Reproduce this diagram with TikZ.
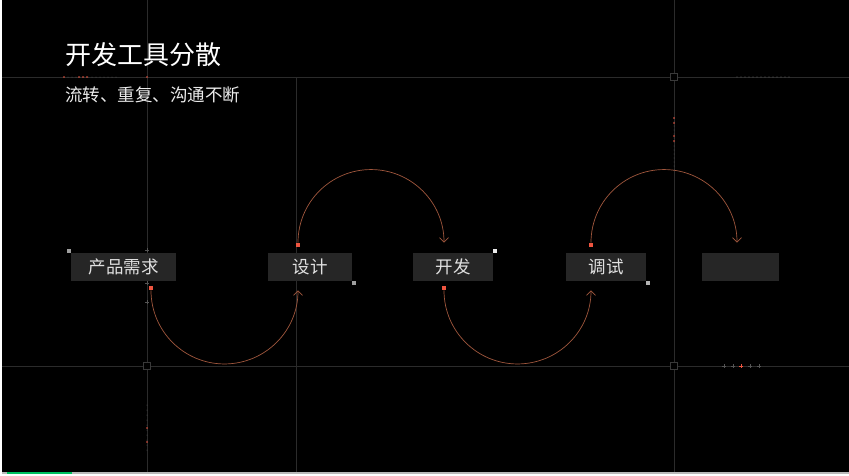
\documentclass[tikz,border=0pt]{standalone}
\usepackage{fontspec}
\newfontfamily\cjk{Noto Sans CJK SC}
\usepackage{tikz}
\usetikzlibrary{arrows.meta, positioning}

\definecolor{gridgray}{HTML}{2B2B2B}
\definecolor{tickgray}{HTML}{555555}
\definecolor{boxgray}{HTML}{262626}
\definecolor{pinred}{HTML}{EE5540}
\definecolor{flowbrown}{HTML}{A0573D}
\definecolor{barGreen}{HTML}{00C060}

\begin{document}
\begin{tikzpicture}[x=1pt,y=-1pt,
    >={Straight Barb[length=4.5pt,width=9pt]},
    gridline/.style={draw=gridgray, line width=0.9pt},
    junction/.style={draw=gray!45!black, fill=black, line width=0.8pt, minimum size=7pt, inner sep=0pt},
    stage/.style={fill=boxgray, text=white!88!black, minimum height=28pt, inner sep=0pt, font=\cjk\fontsize{17.5}{17.5}\selectfont},
    pin/.style={fill=pinred, minimum size=4.5pt, inner sep=0pt},
    corner/.style={fill=#1, minimum size=4pt, inner sep=0pt},
    flow/.style={draw=flowbrown, line width=0.7pt}]

% draw the background

%% page and slide
\fill[white] (0,0) rectangle (849,475);
\fill[black] (2,0) rectangle (849,472);
\useasboundingbox (0,0) rectangle (849,475);

%% progress bar
\fill[gray!55] (2,472) rectangle (849,473.5);
\fill[barGreen] (7,472) rectangle (72,473.5);

%% draw grid lines
\draw[gridline] (147,0) -- (147,472);
\draw[gridline] (296,77) -- (296,472);
\draw[gridline] (674,0) -- (674,472);
\draw[gridline] (2,77) -- (849,77);
\draw[gridline] (2,366) -- (849,366);

%% junctions
\node[junction] (j1) at (674,77) {};
\node[junction] (j2) at (147,366) {};
\node[junction] (j3) at (674,366) {};

%% ticks on the grid lines
\foreach \x in {68,72,...,116}
    \fill[tickgray] (\x,77) circle (0.5);
\foreach \x in {64,79,83,87,147}
    \fill[pinred] (\x,77) circle (0.9);
\foreach \x in {737,741,...,791}
    \fill[tickgray] (\x,77) circle (0.6);
\foreach \y in {118,122,...,170}
    \fill[tickgray] (674,\y) circle (0.5);
\foreach \y in {118,123,136,141}
    \fill[pinred] (674,\y) circle (0.8);
\foreach \y in {405,410,...,453}
    \fill[tickgray] (147,\y) circle (0.5);
\foreach \y in {428,442}
    \fill[pinred] (147,\y) circle (0.8);
\foreach \x in {724,733,750,759}
    \draw[tickgray,line width=0.4pt] (\x-2,366) -- (\x+2,366) (\x,364) -- (\x,368);
\draw[pinred,line width=0.6pt] (739,366) -- (743,366) (741,364) -- (741,368);
\foreach \y in {250,283,302}
    \draw[tickgray,line width=0.4pt] (145,\y) -- (149,\y) (147,\y-2) -- (147,\y+2);

% title
\node[anchor=west, inner sep=0pt, text=white, font=\cjk\fontsize{26}{26}\selectfont] (title) at (65,55) {开发工具分散};
\node[anchor=west, inner sep=0pt, text=white!92!black, font=\cjk\fontsize{17.5}{17.5}\selectfont] (subtitle) at (65,95) {流转、重复、沟通不断};

% stages
\node[stage, minimum width=104.5pt] (req) at (123.5,267) {产品需求};
\node[stage, minimum width=84pt] (design) at (310,267) {设计};
\node[stage, minimum width=80pt] (dev) at (453,267) {开发};
\node[stage, minimum width=80pt] (debug) at (606,267) {调试};
\node[stage, minimum width=77pt] (blank) at (740.5,267) {};

%% corner marks
\node[corner=gray!75] (c1) at (69,251) {};
\node[corner=gray!75] (c2) at (354,283) {};
\node[corner=white!92!black] (c3) at (495,251) {};
\node[corner=gray!60] (c4) at (648,283) {};

%% pins
\node[pin] (reqpin) at (151,288) {};
\node[pin] (designpin) at (298,245) {};
\node[pin] (devpin) at (444,288) {};
\node[pin] (debugpin) at (591,245) {};

% flow arcs
\draw[flow,->] (reqpin.south) arc[start angle=180, end angle=360, radius=73.5pt];
\draw[flow,->] (designpin.north) arc[start angle=180, end angle=0, radius=73pt];
\draw[flow,->] (devpin.south) arc[start angle=180, end angle=360, radius=73.5pt];
\draw[flow,->] (debugpin.north) arc[start angle=180, end angle=0, radius=73pt];

\end{tikzpicture}
\end{document}
